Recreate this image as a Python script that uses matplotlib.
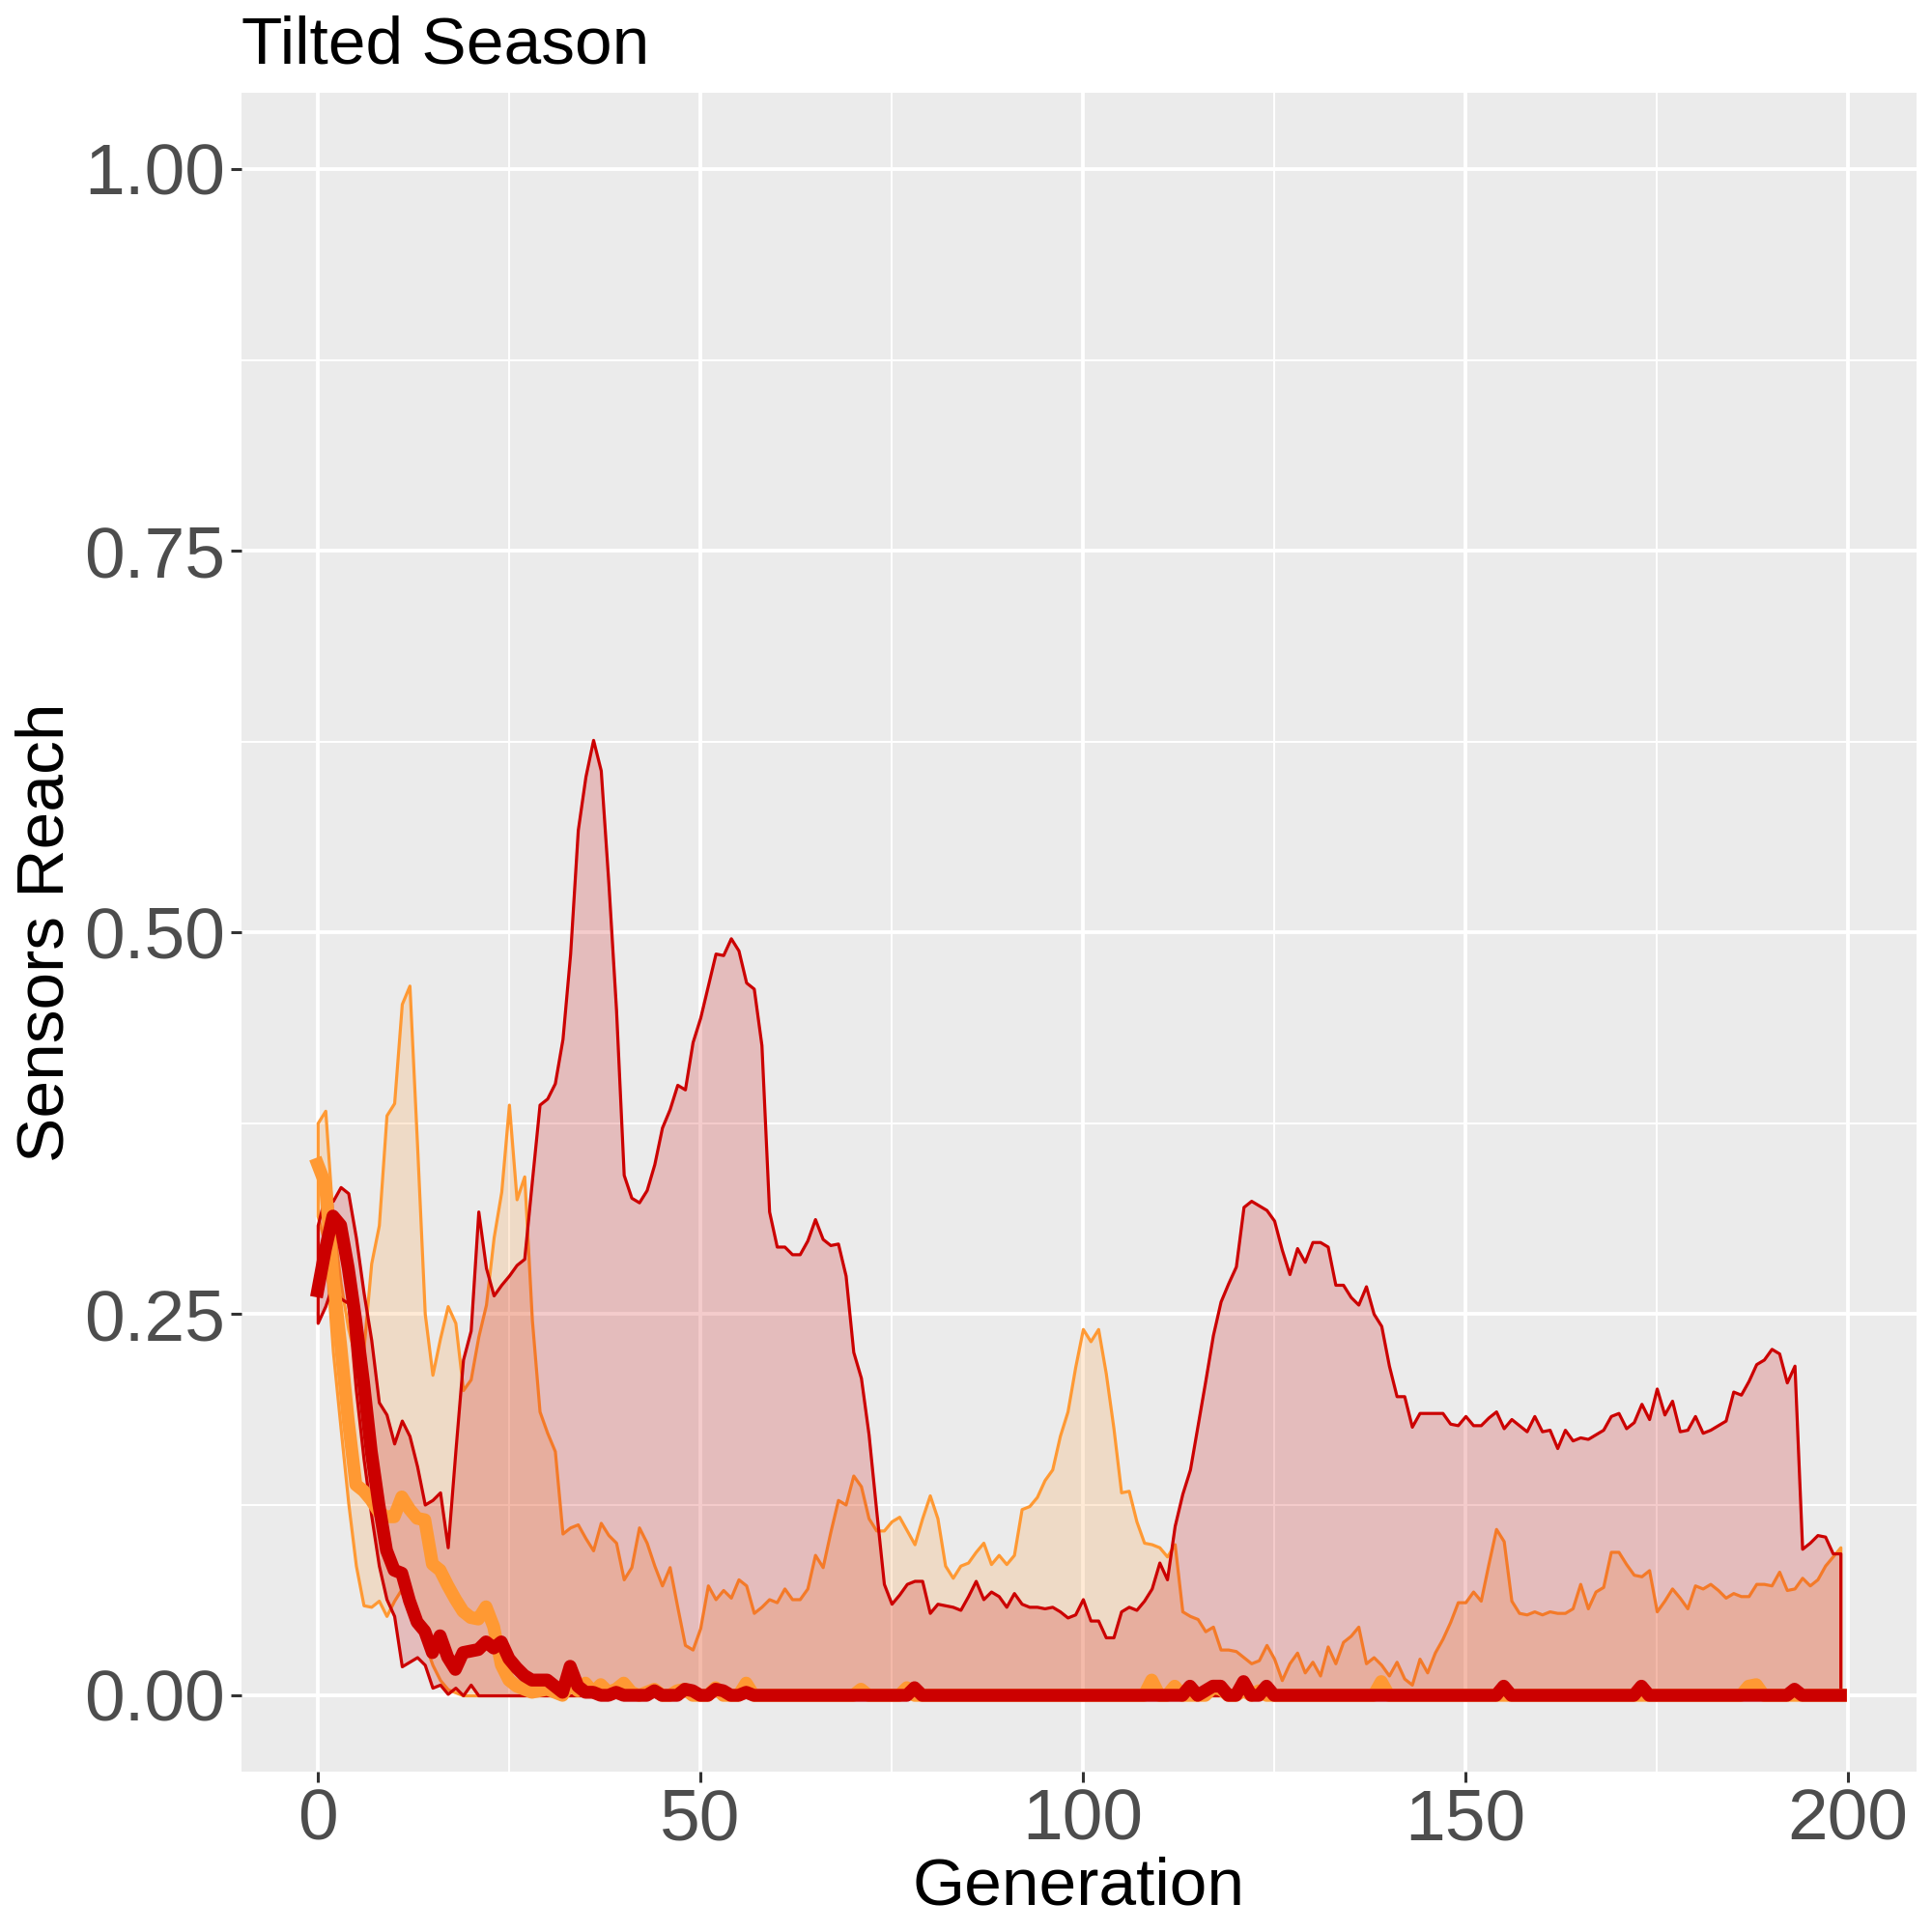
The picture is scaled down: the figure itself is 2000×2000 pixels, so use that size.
import numpy as np
import matplotlib.pyplot as plt

# generations 0..199
generation = np.arange(200)

# orange run: upper / lower bound and median
orange_hi = [
    0.375, 0.383, 0.310, 0.270, 0.240, 0.220, 0.227, 0.283, 0.308, 0.380,
    0.388, 0.453, 0.465, 0.360, 0.250, 0.210, 0.234, 0.255, 0.244, 0.200,
    0.207, 0.235, 0.256, 0.300, 0.330, 0.387, 0.325, 0.340, 0.246, 0.186,
    0.172, 0.160, 0.106, 0.110, 0.112, 0.103, 0.095, 0.113, 0.105, 0.100,
    0.076, 0.084, 0.110, 0.100, 0.085, 0.072, 0.084, 0.058, 0.033, 0.030,
    0.044, 0.072, 0.063, 0.069, 0.064, 0.076, 0.072, 0.054, 0.058, 0.063,
    0.061, 0.070, 0.063, 0.063, 0.070, 0.092, 0.084, 0.107, 0.128, 0.125,
    0.144, 0.137, 0.116, 0.108, 0.108, 0.114, 0.117, 0.108, 0.099, 0.116,
    0.131, 0.116, 0.085, 0.077, 0.085, 0.087, 0.094, 0.100, 0.086, 0.092,
    0.086, 0.092, 0.122, 0.124, 0.130, 0.141, 0.148, 0.170, 0.186, 0.215,
    0.240, 0.232, 0.240, 0.211, 0.175, 0.133, 0.134, 0.114, 0.100, 0.099,
    0.097, 0.091, 0.099, 0.055, 0.052, 0.050, 0.042, 0.045, 0.030, 0.030,
    0.029, 0.025, 0.021, 0.023, 0.033, 0.024, 0.010, 0.021, 0.028, 0.015,
    0.022, 0.013, 0.032, 0.021, 0.035, 0.039, 0.045, 0.021, 0.025, 0.020,
    0.013, 0.022, 0.011, 0.007, 0.024, 0.015, 0.028, 0.037, 0.048, 0.061,
    0.061, 0.068, 0.062, 0.086, 0.109, 0.101, 0.062, 0.054, 0.053, 0.055,
    0.053, 0.055, 0.054, 0.054, 0.057, 0.073, 0.057, 0.068, 0.071, 0.094,
    0.094, 0.086, 0.079, 0.078, 0.082, 0.055, 0.062, 0.070, 0.064, 0.057,
    0.072, 0.070, 0.073, 0.069, 0.064, 0.067, 0.065, 0.065, 0.073, 0.073,
    0.072, 0.081, 0.069, 0.070, 0.077, 0.072, 0.076, 0.085, 0.091, 0.097,
]
orange_lo = [
    0.314, 0.295, 0.225, 0.175, 0.126, 0.085, 0.059, 0.058, 0.062, 0.052,
    0.062, 0.070, 0.060, 0.048, 0.034, 0.020, 0.010, 0.004, 0.002, 0.000,
    0, 0, 0, 0, 0, 0, 0, 0, 0, 0,
    0, 0, 0, 0, 0, 0, 0, 0, 0, 0,
    0, 0, 0, 0, 0, 0, 0, 0, 0, 0,
    0, 0, 0, 0, 0, 0, 0, 0, 0, 0,
    0, 0, 0, 0, 0, 0, 0, 0, 0, 0,
    0, 0, 0, 0, 0, 0, 0, 0, 0, 0,
    0, 0, 0, 0, 0, 0, 0, 0, 0, 0,
    0, 0, 0, 0, 0, 0, 0, 0, 0, 0,
    0, 0, 0, 0, 0, 0, 0, 0, 0, 0,
    0, 0, 0, 0, 0, 0, 0, 0, 0, 0,
    0, 0, 0, 0, 0, 0, 0, 0, 0, 0,
    0, 0, 0, 0, 0, 0, 0, 0, 0, 0,
    0, 0, 0, 0, 0, 0, 0, 0, 0, 0,
    0, 0, 0, 0, 0, 0, 0, 0, 0, 0,
    0, 0, 0, 0, 0, 0, 0, 0, 0, 0,
    0, 0, 0, 0, 0, 0, 0, 0, 0, 0,
    0, 0, 0, 0, 0, 0, 0, 0, 0, 0,
    0, 0, 0, 0, 0, 0, 0, 0, 0, 0,
]
orange_med = [
    0.348, 0.335, 0.275, 0.230, 0.180, 0.138, 0.134, 0.128, 0.120, 0.117,
    0.117, 0.130, 0.122, 0.116, 0.115, 0.086, 0.082, 0.072, 0.063, 0.055,
    0.051, 0.050, 0.058, 0.045, 0.020, 0.010, 0.006, 0.004, 0.002, 0.003,
    0.004, 0.002, 0.000, 0.008, 0.003, 0.008, 0.002, 0.007, 0.002, 0.004,
    0.008, 0.002, 0.000, 0.002, 0.004, 0.000, 0.000, 0.003, 0.004, 0.000,
    0.000, 0.000, 0.005, 0.000, 0.000, 0.000, 0.008, 0.000, 0.000, 0.000,
    0, 0, 0, 0, 0, 0, 0, 0, 0, 0,
    0, 0.004, 0, 0, 0, 0, 0, 0.005, 0, 0,
    0, 0, 0, 0, 0, 0, 0, 0, 0, 0,
    0, 0, 0, 0, 0, 0, 0, 0, 0, 0,
    0, 0, 0, 0, 0, 0, 0, 0, 0, 0.010,
    0, 0, 0.006, 0, 0, 0, 0, 0.005, 0.004, 0,
    0, 0.003, 0, 0.003, 0, 0, 0, 0, 0, 0,
    0, 0, 0, 0, 0, 0, 0, 0, 0, 0.009,
    0, 0, 0, 0, 0, 0, 0, 0, 0, 0,
    0, 0, 0, 0, 0, 0, 0, 0, 0, 0,
    0, 0, 0, 0, 0, 0, 0, 0, 0, 0,
    0, 0, 0, 0, 0, 0, 0, 0, 0, 0,
    0, 0, 0, 0, 0, 0, 0, 0.006, 0.007, 0,
    0, 0, 0, 0, 0, 0, 0, 0, 0, 0,
]

# red run
red_hi = [
    0.308, 0.328, 0.324, 0.333, 0.329, 0.300, 0.264, 0.233, 0.192, 0.184,
    0.165, 0.180, 0.170, 0.150, 0.125, 0.128, 0.133, 0.097, 0.160, 0.220,
    0.239, 0.317, 0.280, 0.262, 0.269, 0.275, 0.282, 0.286, 0.337, 0.387,
    0.391, 0.401, 0.430, 0.486, 0.567, 0.602, 0.626, 0.606, 0.532, 0.449,
    0.341, 0.326, 0.323, 0.331, 0.348, 0.372, 0.384, 0.400, 0.397, 0.428,
    0.444, 0.465, 0.486, 0.485, 0.496, 0.488, 0.467, 0.463, 0.426, 0.317,
    0.294, 0.294, 0.289, 0.289, 0.298, 0.312, 0.299, 0.295, 0.296, 0.275,
    0.225, 0.208, 0.171, 0.121, 0.073, 0.060, 0.066, 0.073, 0.075, 0.075,
    0.054, 0.060, 0.059, 0.058, 0.056, 0.065, 0.075, 0.063, 0.068, 0.065,
    0.058, 0.067, 0.060, 0.058, 0.058, 0.057, 0.058, 0.055, 0.051, 0.053,
    0.063, 0.049, 0.049, 0.038, 0.038, 0.055, 0.058, 0.056, 0.062, 0.070,
    0.087, 0.076, 0.111, 0.132, 0.148, 0.177, 0.206, 0.236, 0.258, 0.270,
    0.281, 0.320, 0.324, 0.321, 0.318, 0.311, 0.292, 0.276, 0.293, 0.284,
    0.297, 0.297, 0.294, 0.269, 0.269, 0.261, 0.256, 0.268, 0.250, 0.242,
    0.216, 0.196, 0.196, 0.176, 0.185, 0.185, 0.185, 0.185, 0.178, 0.177,
    0.183, 0.177, 0.177, 0.182, 0.186, 0.175, 0.181, 0.177, 0.173, 0.183,
    0.173, 0.174, 0.162, 0.174, 0.167, 0.169, 0.168, 0.171, 0.174, 0.183,
    0.185, 0.175, 0.179, 0.191, 0.181, 0.201, 0.184, 0.193, 0.173, 0.174,
    0.183, 0.172, 0.174, 0.177, 0.180, 0.199, 0.197, 0.206, 0.217, 0.220,
    0.227, 0.224, 0.205, 0.216, 0.096, 0.100, 0.105, 0.104, 0.093, 0.093,
]
red_lo = [
    0.244, 0.255, 0.270, 0.260, 0.257, 0.200, 0.155, 0.118, 0.085, 0.063,
    0.052, 0.019, 0.022, 0.025, 0.020, 0.005, 0.007, 0.001, 0.005, 0.000,
    0.007, 0, 0, 0, 0, 0, 0, 0, 0, 0,
    0, 0, 0, 0, 0, 0, 0, 0, 0, 0,
    0, 0, 0, 0, 0, 0, 0, 0, 0, 0,
    0, 0, 0, 0, 0, 0, 0, 0, 0, 0,
    0, 0, 0, 0, 0, 0, 0, 0, 0, 0,
    0, 0, 0, 0, 0, 0, 0, 0, 0, 0,
    0, 0, 0, 0, 0, 0, 0, 0, 0, 0,
    0, 0, 0, 0, 0, 0, 0, 0, 0, 0,
    0, 0, 0, 0, 0, 0, 0, 0, 0, 0,
    0, 0, 0, 0, 0, 0, 0, 0, 0, 0,
    0, 0, 0, 0, 0, 0, 0, 0, 0, 0,
    0, 0, 0, 0, 0, 0, 0, 0, 0, 0,
    0, 0, 0, 0, 0, 0, 0, 0, 0, 0,
    0, 0, 0, 0, 0, 0, 0, 0, 0, 0,
    0, 0, 0, 0, 0, 0, 0, 0, 0, 0,
    0, 0, 0, 0, 0, 0, 0, 0, 0, 0,
    0, 0, 0, 0, 0, 0, 0, 0, 0, 0,
    0, 0, 0, 0, 0, 0, 0, 0, 0, 0,
]
red_med = [
    0.265, 0.292, 0.314, 0.308, 0.280, 0.245, 0.205, 0.160, 0.125, 0.095,
    0.082, 0.080, 0.062, 0.048, 0.042, 0.028, 0.039, 0.025, 0.017, 0.028,
    0.029, 0.030, 0.035, 0.031, 0.035, 0.024, 0.018, 0.013, 0.010, 0.010,
    0.010, 0.006, 0.002, 0.019, 0.006, 0.002, 0.002, 0.000, 0.000, 0.002,
    0.000, 0.000, 0.000, 0.000, 0.003, 0.000, 0.000, 0.000, 0.004, 0.003,
    0.000, 0.000, 0.004, 0.003, 0.000, 0.000, 0.002, 0.000, 0.000, 0.000,
    0, 0, 0, 0, 0, 0, 0, 0, 0, 0,
    0, 0, 0, 0, 0, 0, 0, 0, 0.005, 0,
    0, 0, 0, 0, 0, 0, 0, 0, 0, 0,
    0, 0, 0, 0, 0, 0, 0, 0, 0, 0,
    0, 0, 0, 0, 0, 0, 0, 0, 0, 0,
    0, 0, 0, 0, 0.006, 0, 0.003, 0.006, 0.006, 0,
    0, 0.009, 0, 0, 0.006, 0, 0, 0, 0, 0,
    0, 0, 0, 0, 0, 0, 0, 0, 0, 0,
    0, 0, 0, 0, 0, 0, 0, 0, 0, 0,
    0, 0, 0, 0, 0, 0.006, 0, 0, 0, 0,
    0, 0, 0, 0, 0, 0, 0, 0, 0, 0,
    0, 0, 0, 0.006, 0, 0, 0, 0, 0, 0,
    0, 0, 0, 0, 0, 0, 0, 0, 0, 0,
    0, 0, 0, 0.004, 0, 0, 0, 0, 0, 0,
]

x_ticks = [0, 50, 100, 150, 200]
y_ticks = [0.0, 0.25, 0.5, 0.75, 1.0]
y_tick_labels = ['0.00', '0.25', '0.50', '0.75', '1.00']

plt.rcParams['font.family'] = ['Liberation Sans', 'DejaVu Sans']

ORANGE = '#FF9933'
RED = '#CC0000'

fig = plt.figure(figsize=(10, 10), dpi=200)
ax = fig.add_axes([0.125, 0.083, 0.867, 0.869])
ax.set_facecolor('#EBEBEB')

# ribbons (fill with alpha, outline solid)
ax.fill_between(generation, orange_lo, orange_hi, facecolor=(1.0, 0.6, 0.2, 0.2),
                edgecolor=ORANGE, linewidth=1.15, zorder=2)
ax.fill_between(generation, red_lo, red_hi, facecolor=(0.8, 0.0, 0.0, 0.2),
                edgecolor=RED, linewidth=1.15, zorder=3)

# medians
ax.plot(generation, orange_med, color=ORANGE, linewidth=4.8, zorder=4)
ax.plot(generation, red_med, color=RED, linewidth=4.8, zorder=5)

ax.set_xlim(-9.95, 208.95)
ax.set_ylim(-0.05, 1.05)
ax.set_xticks(x_ticks)
ax.set_xticks([25, 75, 125, 175], minor=True)
ax.set_yticks(y_ticks)
ax.set_yticklabels(y_tick_labels)
ax.set_yticks([0.125, 0.375, 0.625, 0.875], minor=True)

ax.grid(which='major', color='white', linewidth=1.4)
ax.grid(which='minor', color='white', linewidth=0.7)
ax.set_axisbelow(True)
for s in ax.spines.values():
    s.set_visible(False)

ax.tick_params(which='major', length=4, width=1.1, color='#333333',
               labelsize=27, labelcolor='#4D4D4D', pad=2)
ax.tick_params(which='minor', length=0)

ax.set_xlabel('Generation', fontsize=25, color='black', labelpad=0.5)
ax.set_ylabel('Sensors Reach', fontsize=25, color='black', labelpad=3)
ax.set_title('Tilted Season', loc='left', fontsize=25, pad=11)

fig.savefig('out.png', dpi=200)
